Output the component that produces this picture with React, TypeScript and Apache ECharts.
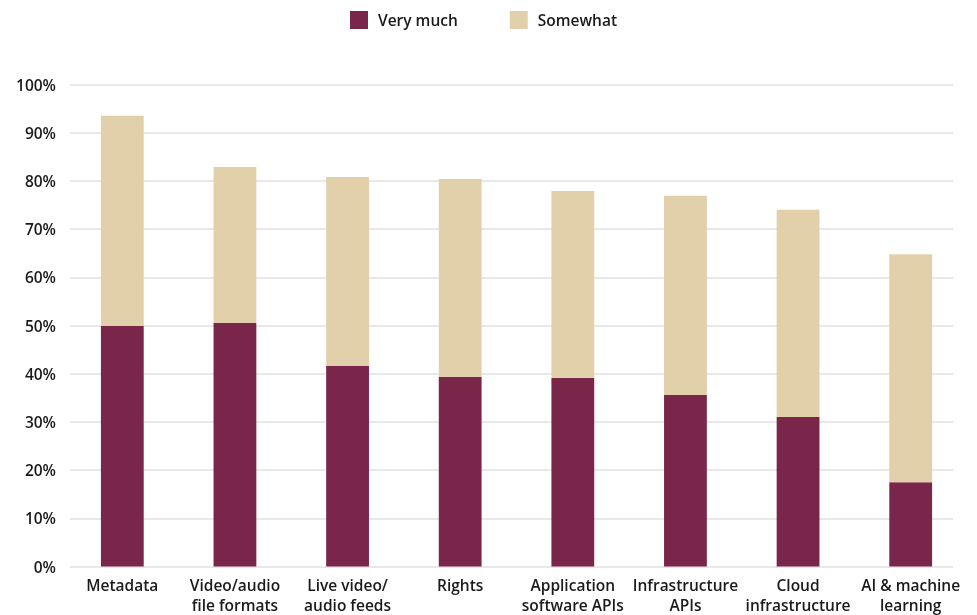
import React, { useEffect, useRef } from "react";
import * as echarts from "echarts";

const categories = [
  "Metadata",
  "Video/audio\nfile formats",
  "Live video/\naudio feeds",
  "Rights",
  "Application\nsoftware APIs",
  "Infrastructure\nAPIs",
  "Cloud\ninfrastructure",
  "AI & machine\nlearning",
];
const veryMuch = [49.9, 50.5, 41.6, 39.3, 39.1, 35.6, 31.0, 17.5];
const somewhat = [43.6, 32.4, 39.2, 41.1, 38.8, 41.3, 43.0, 47.3];

const FONT = "'Open Sans', sans-serif";
const TEXT = "#1a1a1a";

export default function App() {
  const ref = useRef<HTMLDivElement>(null);
  useEffect(() => {
    if (!ref.current) return;
    const chart = echarts.init(ref.current, undefined, { renderer: "svg" });
    chart.setOption({
      animation: false,
      textStyle: { fontFamily: FONT },
      legend: {
        top: 6,
        left: 345,
        itemWidth: 18,
        itemHeight: 18,
        itemGap: 52,
        icon: "rect",
        textStyle: { fontFamily: FONT, fontSize: 15.5, fontWeight: 600, color: TEXT, padding: [0, 0, 0, 5] },
        data: ["Very much", "Somewhat"],
      },
      grid: [
        { left: 70, right: 24, top: 84.5, bottom: 48.5, outerBoundsMode: "none", containLabel: false },
        { left: 66, right: 10, top: 84.5, bottom: 48.5, outerBoundsMode: "none", containLabel: false },
      ],
      xAxis: [
        { type: "category", gridIndex: 0, data: categories, show: false },
        {
          type: "category",
          gridIndex: 1,
          data: categories,
          axisLine: { show: false },
          axisTick: { show: false },
          axisLabel: {
            interval: 0,
            margin: 8,
            fontFamily: FONT,
            fontSize: 15.5,
            fontWeight: 600,
            color: TEXT,
            lineHeight: 20,
          },
        },
      ],
      yAxis: [
        {
          type: "value",
          gridIndex: 0,
          min: 0,
          max: 100,
          interval: 10,
          axisLine: { show: false },
          axisTick: { show: false },
          splitLine: { lineStyle: { color: "#e0e0e0", width: 1.5 } },
          axisLabel: {
            formatter: "{value}%",
            margin: 14,
            fontFamily: FONT,
            fontSize: 15.5,
            fontWeight: 600,
            color: TEXT,
          },
        },
        { type: "value", gridIndex: 1, min: 0, max: 100, interval: 10, show: false },
      ],
      series: [
        {
          name: "Very much",
          type: "bar",
          stack: "total",
          xAxisIndex: 1,
          yAxisIndex: 1,
          barWidth: "38%",
          itemStyle: { color: "#7a254a" },
          data: veryMuch,
        },
        {
          name: "Somewhat",
          type: "bar",
          stack: "total",
          xAxisIndex: 1,
          yAxisIndex: 1,
          barWidth: "38%",
          itemStyle: { color: "#e2d0aa" },
          data: somewhat,
        },
      ],
    });
    return () => chart.dispose();
  }, []);
  return (
    <div
      ref={ref}
      style={{ position: "fixed", left: 0, top: 0, width: 977, height: 615 }}
    />
  );
}
